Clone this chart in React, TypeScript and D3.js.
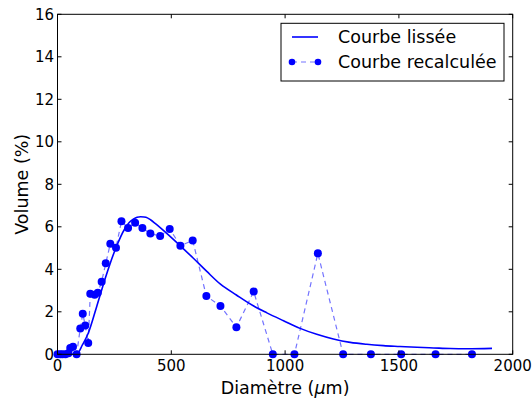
import React from "react";
import * as d3 from "d3";

const smoothX = [0, 40, 84, 110, 135, 172, 212, 253, 297, 315, 333, 350, 365, 380, 395, 410, 429, 480, 536, 597, 656, 716, 786, 862, 920, 993, 1066, 1139, 1212, 1286, 1359, 1432, 1505, 1579, 1652, 1725, 1800, 1909];
const smoothY = [0, 0, 0, 0.45, 0.99, 2.24, 3.65, 4.91, 5.93, 6.2, 6.36, 6.45, 6.47, 6.46, 6.42, 6.32, 6.16, 5.69, 5.14, 4.52, 3.9, 3.3, 2.79, 2.27, 1.95, 1.58, 1.22, 0.94, 0.72, 0.56, 0.47, 0.41, 0.37, 0.33, 0.3, 0.27, 0.26, 0.28];

const recalcX = [0, 12, 22, 35, 48, 56, 68, 84, 100, 111, 122, 135, 144, 163, 177, 194, 212, 232, 257, 281, 310, 341, 373, 408, 451, 493, 540, 594, 654, 716, 786, 862, 946, 1041, 1144, 1255, 1377, 1510, 1661, 1821];
const recalcY = [0, 0, 0, 0, 0.05, 0.3, 0.35, 0, 1.22, 1.91, 1.36, 0.53, 2.85, 2.8, 2.9, 3.42, 4.28, 5.2, 5.02, 6.26, 5.94, 6.19, 5.94, 5.68, 5.57, 5.9, 5.11, 5.36, 2.74, 2.27, 1.27, 2.95, 0, 0, 4.75, 0, 0, 0, 0, 0];

const xTicks = [0, 500, 1000, 1500, 2000];
const yTicks = [0, 2, 4, 6, 8, 10, 12, 14, 16];

const W = 532, H = 401;
const L = 57.5, R = 512.7, T = 14.3, B = 354.3;
const FONT = "DejaVu Sans, sans-serif";

export default function App() {
  const x = d3.scaleLinear().domain([0, 2000]).range([L, R]);
  const y = d3.scaleLinear().domain([0, 16]).range([B, T]);
  const smooth = smoothX.map((d, i) => [d, smoothY[i]] as [number, number]);
  const recalc = recalcX.map((d, i) => [d, recalcY[i]] as [number, number]);
  const line = d3.line<[number, number]>().x(d => x(d[0])).y(d => y(d[1]));
  const smoothLine = d3.line<[number, number]>().x(d => x(d[0])).y(d => y(d[1])).curve(d3.curveMonotoneX);
  const blue = "#0000ff";
  return (
    <svg width={W} height={H} style={{ position: "absolute", left: 0, top: 0 }} fontFamily={FONT}>
      <rect x={0} y={0} width={W} height={H} fill="#fff" />
      <path d={line(recalc) || ""} fill="none" stroke={blue} strokeOpacity={0.55} strokeWidth={1.2} strokeDasharray="5,4" />
      <path d={smoothLine(smooth) || ""} fill="none" stroke={blue} strokeWidth={1.6} />
      {recalc.map((d, i) => (
        <circle key={i} cx={x(d[0])} cy={y(d[1])} r={4} fill={blue} />
      ))}
      <rect x={L} y={T} width={R - L} height={B - T} fill="none" stroke="#000" strokeWidth={1} />
      {xTicks.map(t => (
        <g key={"x" + t}>
          <line x1={x(t)} x2={x(t)} y1={B} y2={B - 4} stroke="#000" />
          <line x1={x(t)} x2={x(t)} y1={T} y2={T + 4} stroke="#000" />
          <text x={x(t)} y={B + 16.5} textAnchor="middle" fontSize={15}>{t}</text>
        </g>
      ))}
      {yTicks.map(t => (
        <g key={"y" + t}>
          <line x1={L} x2={L + 4} y1={y(t)} y2={y(t)} stroke="#000" />
          <line x1={R} x2={R - 4} y1={y(t)} y2={y(t)} stroke="#000" />
          <text x={L - 3.5} y={y(t) + 5.5} textAnchor="end" fontSize={15}>{t}</text>
        </g>
      ))}
      <text x={(L + R) / 2} y={393.5} textAnchor="middle" fontSize={17.5}>
        Diamètre (<tspan fontStyle="italic">μ</tspan>m)
      </text>
      <text transform={`translate(27.5,${(T + B) / 2}) rotate(-90)`} textAnchor="middle" fontSize={17.5}>Volume (%)</text>
      <g>
        <rect x={281} y={23.3} width={223} height={57.7} fill="#fff" stroke="#000" strokeWidth={1} />
        <line x1={292} x2={318} y1={37} y2={37} stroke={blue} strokeWidth={1.6} />
        <text x={338} y={43} fontSize={17.5}>Courbe lissée</text>
        <line x1={292} x2={318} y1={62} y2={62} stroke={blue} strokeOpacity={0.55} strokeWidth={1.2} strokeDasharray="5,4" />
        <circle cx={292} cy={62} r={3.3} fill={blue} />
        <circle cx={318} cy={62} r={3.3} fill={blue} />
        <text x={338} y={68} fontSize={17.5}>Courbe recalculée</text>
      </g>
    </svg>
  );
}
